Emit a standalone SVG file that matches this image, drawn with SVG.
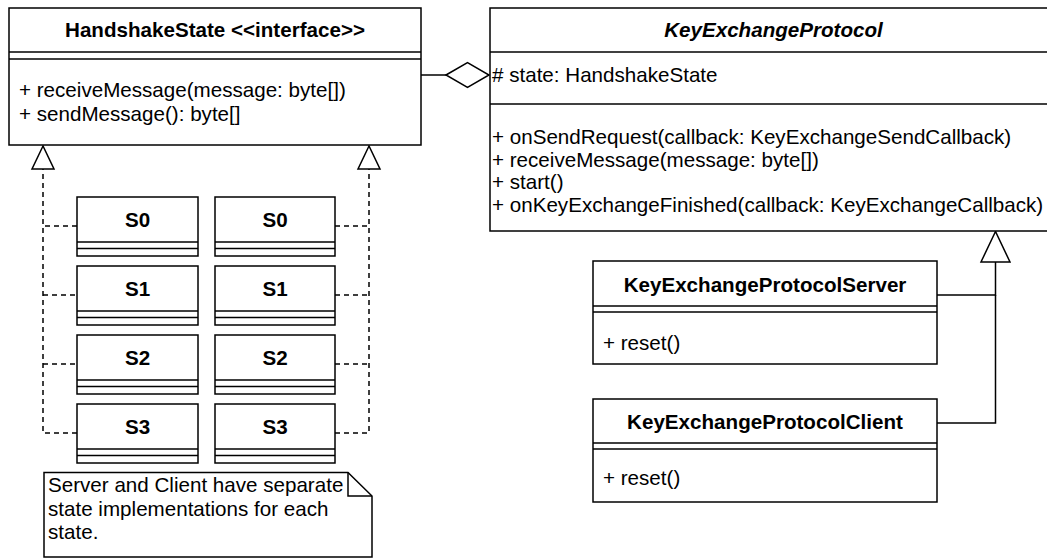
<svg xmlns="http://www.w3.org/2000/svg" width="1047" height="559" viewBox="0 0 1047 559">
<style>
  .box { fill: #ffffff; stroke: #000000; stroke-width: 1.5; }
  .ln { fill: none; stroke: #000000; stroke-width: 1.5; }
  .dash { fill: none; stroke: #000000; stroke-width: 1.5; stroke-dasharray: 5 4; }
  .tri { fill: #ffffff; stroke: #000000; stroke-width: 1.5; }
  text { font-family: "Liberation Sans", Arial, sans-serif; font-size: 20.6px; fill: #000000; }
  .title { font-weight: bold; text-anchor: middle; }
  .ital { font-weight: bold; font-style: italic; text-anchor: middle; }
</style>
<rect x="0" y="0" width="1047" height="559" fill="#ffffff"/>

<g id="connectors">
  <line class="ln" x1="421" y1="75" x2="446" y2="75"/>
  <polygon class="tri" points="446,75 467.5,62.5 489,75 467.5,87.5"/>
  <polyline class="dash" points="77,226 43,226 43,169"/>
  <line class="dash" x1="43" y1="295" x2="77" y2="295"/>
  <line class="dash" x1="43" y1="364" x2="77" y2="364"/>
  <polyline class="dash" points="77,433 43,433 43,226"/>
  <polygon class="tri" points="43,146 32,169 54,169"/>
  <polyline class="dash" points="335,226 369,226 369,169"/>
  <line class="dash" x1="335" y1="295" x2="369" y2="295"/>
  <line class="dash" x1="335" y1="364" x2="369" y2="364"/>
  <polyline class="dash" points="335,433 369,433 369,226"/>
  <polygon class="tri" points="369,146 358,169 380,169"/>
  <polyline class="ln" points="937,295 995.5,295 995.5,262"/>
  <polyline class="ln" points="937,423 995.5,423 995.5,295"/>
  <polygon class="tri" points="995.5,231.5 981,262 1010,262"/>
</g>

<g id="HandshakeState">
  <rect class="box" x="9" y="8" width="412" height="137"/>
  <line class="ln" x1="9" y1="52" x2="421" y2="52"/>
  <line class="ln" x1="9" y1="59" x2="421" y2="59"/>
  <text class="title" x="215" y="37">HandshakeState &lt;&lt;interface&gt;&gt;</text>
  <text x="19" y="97">+ receiveMessage(message: byte[])</text>
  <text x="19" y="121">+ sendMessage(): byte[]</text>
</g>

<g id="KeyExchangeProtocol">
  <rect class="box" x="490" y="8" width="567" height="223"/>
  <line class="ln" x1="490" y1="52" x2="1057" y2="52"/>
  <line class="ln" x1="490" y1="104" x2="1057" y2="104"/>
  <text class="ital" x="773.5" y="37">KeyExchangeProtocol</text>
  <text x="492" y="82"># state: HandshakeState</text>
  <text x="492" y="144">+ onSendRequest(callback: KeyExchangeSendCallback)</text>
  <text x="492" y="167">+ receiveMessage(message: byte[])</text>
  <text x="492" y="189">+ start()</text>
  <text x="492" y="212">+ onKeyExchangeFinished(callback: KeyExchangeCallback)</text>
</g>

<g id="KeyExchangeProtocolServer">
  <rect class="box" x="593" y="261" width="344" height="103"/>
  <line class="ln" x1="593" y1="306" x2="937" y2="306"/>
  <line class="ln" x1="593" y1="312" x2="937" y2="312"/>
  <text class="title" x="765" y="292">KeyExchangeProtocolServer</text>
  <text x="603" y="350">+ reset()</text>
</g>

<g id="KeyExchangeProtocolClient">
  <rect class="box" x="593" y="399" width="344" height="103"/>
  <line class="ln" x1="593" y1="443" x2="937" y2="443"/>
  <line class="ln" x1="593" y1="449" x2="937" y2="449"/>
  <text class="title" x="765" y="429">KeyExchangeProtocolClient</text>
  <text x="603" y="485">+ reset()</text>
</g>

<g id="ServerS0">
  <rect class="box" x="77" y="197" width="121" height="59"/>
  <line class="ln" x1="77" y1="242" x2="198" y2="242"/>
  <line class="ln" x1="77" y1="248.5" x2="198" y2="248.5"/>
  <text class="title" x="137.5" y="227">S0</text>
</g>
<g id="ClientS0">
  <rect class="box" x="215" y="197" width="120" height="59"/>
  <line class="ln" x1="215" y1="242" x2="335" y2="242"/>
  <line class="ln" x1="215" y1="248.5" x2="335" y2="248.5"/>
  <text class="title" x="275" y="227">S0</text>
</g>
<g id="ServerS1">
  <rect class="box" x="77" y="266" width="121" height="59"/>
  <line class="ln" x1="77" y1="311" x2="198" y2="311"/>
  <line class="ln" x1="77" y1="317.5" x2="198" y2="317.5"/>
  <text class="title" x="137.5" y="296">S1</text>
</g>
<g id="ClientS1">
  <rect class="box" x="215" y="266" width="120" height="59"/>
  <line class="ln" x1="215" y1="311" x2="335" y2="311"/>
  <line class="ln" x1="215" y1="317.5" x2="335" y2="317.5"/>
  <text class="title" x="275" y="296">S1</text>
</g>
<g id="ServerS2">
  <rect class="box" x="77" y="335" width="121" height="59"/>
  <line class="ln" x1="77" y1="380" x2="198" y2="380"/>
  <line class="ln" x1="77" y1="386.5" x2="198" y2="386.5"/>
  <text class="title" x="137.5" y="365">S2</text>
</g>
<g id="ClientS2">
  <rect class="box" x="215" y="335" width="120" height="59"/>
  <line class="ln" x1="215" y1="380" x2="335" y2="380"/>
  <line class="ln" x1="215" y1="386.5" x2="335" y2="386.5"/>
  <text class="title" x="275" y="365">S2</text>
</g>
<g id="ServerS3">
  <rect class="box" x="77" y="404" width="121" height="59"/>
  <line class="ln" x1="77" y1="449" x2="198" y2="449"/>
  <line class="ln" x1="77" y1="455.5" x2="198" y2="455.5"/>
  <text class="title" x="137.5" y="434">S3</text>
</g>
<g id="ClientS3">
  <rect class="box" x="215" y="404" width="120" height="59"/>
  <line class="ln" x1="215" y1="449" x2="335" y2="449"/>
  <line class="ln" x1="215" y1="455.5" x2="335" y2="455.5"/>
  <text class="title" x="275" y="434">S3</text>
</g>

<g id="note">
  <path class="box" d="M44,472.5 H348 L372,496 V557 H44 Z"/>
  <path class="ln" d="M348,472.5 V496 H372"/>
  <text x="48" y="492">Server and Client have separate</text>
  <text x="48" y="516">state implementations for each</text>
  <text x="48" y="539">state.</text>
</g>
</svg>
